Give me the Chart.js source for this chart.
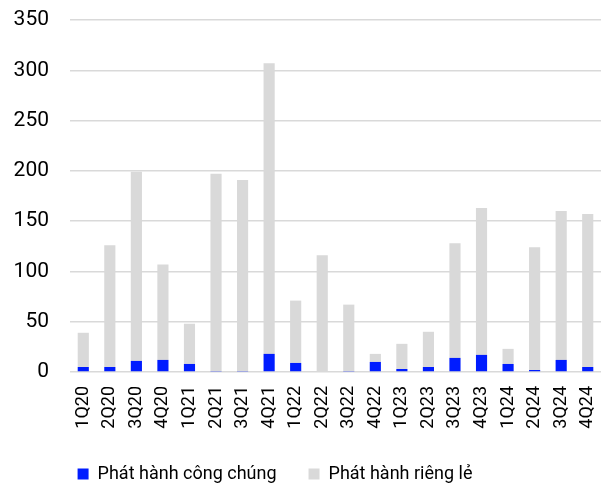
<!DOCTYPE html>
<html>
<head>
<meta charset="utf-8">
<script src="https://cdn.jsdelivr.net/npm/chart.js@4"></script>
<style>
html,body{margin:0;padding:0;background:#fff;}
#wrap{width:608px;height:485px;position:relative;}
</style>
</head>
<body>
<div id="wrap"><canvas id="c" width="608" height="485"></canvas></div>
<script>
const categories = ["1Q20","2Q20","3Q20","4Q20","1Q21","2Q21","3Q21","4Q21","1Q22","2Q22","3Q22","4Q22","1Q23","2Q23","3Q23","4Q23","1Q24","2Q24","3Q24","4Q24"];
const publicIssue = [5,5,11,12,8,1,1,18,9,0,1,10,3,5,14,17,8,2,12,5];
const privateIssue = [34,121,188,95,40,196,190,289,62,116,66,8,25,35,114,146,15,122,148,152];
const seriesNames = ["Phát hành công chúng","Phát hành riêng lẻ"];
const yTicks = [0,50,100,150,200,250,300,350];

Chart.defaults.font.family = "Roboto, 'Liberation Sans', sans-serif";
Chart.defaults.color = "#000";

const legendShift = {
  id: 'legendShift',
  beforeUpdate(chart) {
    const lg = chart.legend;
    if (lg && !lg._wrapped) {
      const orig = lg.fit;
      lg.fit = function () { orig.apply(this, arguments); this.height -= 9; };
      lg._wrapped = true;
    }
  },
  afterLayout(chart) {
    const lg = chart.legend;
    if (lg) { lg.left = 0; lg.right = 550; lg.top += 1; lg.bottom += 1; }
  }
};

new Chart(document.getElementById('c'), {
  type: 'bar',
  data: {
    labels: categories,
    datasets: [
      {label: seriesNames[0], data: publicIssue, backgroundColor: '#001cff', barPercentage: 0.42, categoryPercentage: 1},
      {label: seriesNames[1], data: privateIssue, backgroundColor: '#d9d9d9', barPercentage: 0.42, categoryPercentage: 1}
    ]
  },
  plugins: [legendShift],
  options: {
    responsive: false,
    animation: false,
    layout: {padding: {left: 0, right: 7, top: 20, bottom: 2}},
    plugins: {
      legend: {
        position: 'bottom',
        labels: {boxWidth: 11, boxHeight: 11, font: {size: 18}, padding: 32, color: '#000'}
      },
      tooltip: {enabled: false}
    },
    scales: {
      x: {
        stacked: true,
        grid: {display: false, drawTicks: false},
        border: {display: false},
        ticks: {font: {size: 18}, maxRotation: 90, minRotation: 90, padding: 14, color: '#000'},
        afterFit: s => { s.height = 60; s.paddingRight = 0; s.paddingLeft = 0; }
      },
      y: {
        stacked: true,
        min: 0, max: 350,
        afterBuildTicks: s => { s.ticks = yTicks.map(v => ({value: v})); },
        grid: {color: '#d9d9d9', lineWidth: 1.5, drawTicks: true, tickLength: 18, tickColor: 'rgba(0,0,0,0)'},
        border: {display: false},
        ticks: {font: {size: 21}, padding: 3, color: '#000'},
        afterFit: s => { s.width = 70; }
      }
    }
  }
});
</script>
</body>
</html>
